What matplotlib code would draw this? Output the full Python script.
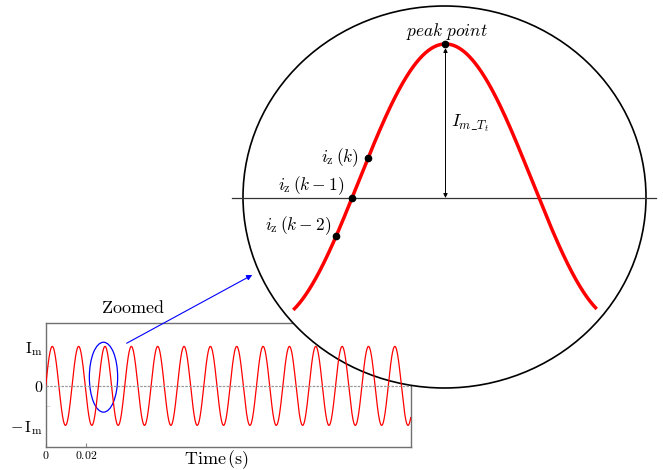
import matplotlib.pyplot as plt
import numpy as np
from matplotlib.patches import Ellipse
from matplotlib.mathtext import MathTextParser

plt.rcParams['mathtext.fontset'] = 'cm'
plt.rcParams['font.family'] = ['DejaVu Serif']

# line current i(t) = I_m * sin(2*pi*f*t)
current_amp = 1.0
current_freq = 75.9      # Hz
t_end = 0.1825           # s
x_ticks = [0, 0.02]
x_tick_labels = ['$0$', '$0.02$']
y_ticks = [-1, 0, 1]
y_minor_ticks = [-0.5, 0.5]
y_tick_labels = [r'$-\,\mathrm{I_m}$', '$0$', r'$\mathrm{I_m}$']

# zoomed view of one positive half cycle (phase in rad)
zoom_phase = (-1.169, 4.293)
peak_phase = np.pi / 2
sample_phase = [-0.395, -0.112, 0.181]
sample_labels = [r'$i_{\mathrm{z}}\,(k-2)$', r'$i_{\mathrm{z}}\,(k-1)$', r'$i_{\mathrm{z}}\,(k)$']
sample_offsets = [(-5, 10), (-8, 12), (-9, 0)]

imt_label = r'$I_{m\_T_t}$'
try:
    MathTextParser('path').parse(imt_label)
except ValueError:
    imt_label = r'$I_{m-T_t}$'

W, H = 663, 470


def px_rect(x0, y0, x1, y1):
    # pixel box (top-left origin) -> figure fraction
    return [x0 / W, 1 - y1 / H, (x1 - x0) / W, (y1 - y0) / H]


fig = plt.figure(figsize=(W / 100, H / 100), dpi=100)

# --- small time-domain plot (frame, ticks, labels) ---
ax = fig.add_axes(px_rect(45.7, 322.7, 410.7, 446.7), zorder=1)
ax.set_xlim(0, t_end)
ax.set_ylim(-1.54, 1.60)
for sp in ax.spines.values():
    sp.set_color('#707070')
    sp.set_linewidth(1.0)
ax.set_xticks(x_ticks)
ax.set_xticklabels(x_tick_labels, fontsize=8.5)
ax.set_yticks(y_ticks)
ax.set_yticks(y_minor_ticks, minor=True)
ax.set_yticklabels(y_tick_labels, fontsize=11.5)
ax.tick_params(axis='x', direction='in', length=3, color='#888888', pad=2)
ax.tick_params(axis='y', which='major', length=0, pad=2)
ax.tick_params(axis='y', which='minor', direction='in', length=3, color='#d0d0d0')
ax.text(0.239, 1.116, r'$\mathrm{Zoomed}$', transform=ax.transAxes,
        ha='center', va='center', fontsize=13)
ax.text(0.467, -0.107, r'$\mathrm{Time}\,\mathrm{(s)}$', transform=ax.transAxes,
        ha='center', va='center', fontsize=13)

# --- zoomed half cycle inside the big ellipse ---
ax_zoom = fig.add_axes(px_rect(243, 6, 646, 388), zorder=2)
ax_zoom.set_xlim(-2.074, 5.180)
ax_zoom.set_ylim(-1.484, 1.274)
ax_zoom.axis('off')
ax_zoom.add_patch(Ellipse((0.5, 0.5), 1, 1, transform=ax_zoom.transAxes,
                          facecolor='white', edgecolor='black', lw=1.2,
                          clip_on=False, zorder=0))

theta = np.linspace(zoom_phase[0], zoom_phase[1], 500)
ax_zoom.plot(theta, current_amp * np.sin(theta), color='#ff0000', lw=2.5,
             solid_capstyle='butt', clip_on=False, zorder=2)

ref_level = current_amp * np.sin(sample_phase[1])
ax_zoom.axhline(ref_level, xmin=-0.027, xmax=1.025, color='#333333', lw=0.9,
                clip_on=False, zorder=1)

sample_vals = current_amp * np.sin(np.array(sample_phase))
ax_zoom.plot(sample_phase, sample_vals, 'o', color='black', ms=4.5, zorder=4,
             clip_on=False)
for ph, val, lab, off in zip(sample_phase, sample_vals, sample_labels, sample_offsets):
    ax_zoom.annotate(lab, (ph, val), xytext=off, textcoords='offset pixels',
                     ha='right', va='center', fontsize=12.5)

peak_val = current_amp * np.sin(peak_phase)
ax_zoom.plot([peak_phase], [peak_val], 'o', color='black', ms=4.5, zorder=4,
             clip_on=False)
ax_zoom.annotate(r'$peak\ point$', (peak_phase, peak_val), xytext=(1, 12),
                 textcoords='offset pixels', ha='center', va='center', fontsize=12.5)
ax_zoom.annotate('', xy=(peak_phase, ref_level), xytext=(peak_phase, peak_val),
                 arrowprops=dict(arrowstyle='<|-|>', color='black', lw=0.7,
                                 mutation_scale=6, shrinkA=3, shrinkB=0),
                 zorder=3)
ax_zoom.annotate(imt_label, (peak_phase, 0.43), xytext=(6, 0),
                 textcoords='offset pixels', ha='left', va='center', fontsize=13)

# --- current waveform drawn on top of the ellipse fill ---
ax_wave = fig.add_axes(px_rect(45.7, 322.7, 410.7, 446.7), zorder=3)
ax_wave.set_xlim(ax.get_xlim())
ax_wave.set_ylim(ax.get_ylim())
ax_wave.axis('off')
t = np.linspace(0, t_end, 3000)
ax_wave.plot(t, current_amp * np.sin(2 * np.pi * current_freq * t),
             color='#ff0000', lw=0.9)
ax_wave.axhline(0, color='#999999', lw=0.9, ls=(0, (2, 1)))
ax_wave.add_patch(Ellipse((0.0289, 0.22), 0.01415, 1.77, fill=False,
                          edgecolor='blue', lw=0.9))
ax_wave.annotate('', xy=(0.023, 0.296), xycoords=ax_zoom.transAxes,
                 xytext=(0.0405, 1.08), textcoords='data',
                 arrowprops=dict(arrowstyle='-|>', color='blue', lw=0.8,
                                 mutation_scale=8, shrinkA=0, shrinkB=0),
                 annotation_clip=False)

fig.savefig('out.png', dpi=100)
